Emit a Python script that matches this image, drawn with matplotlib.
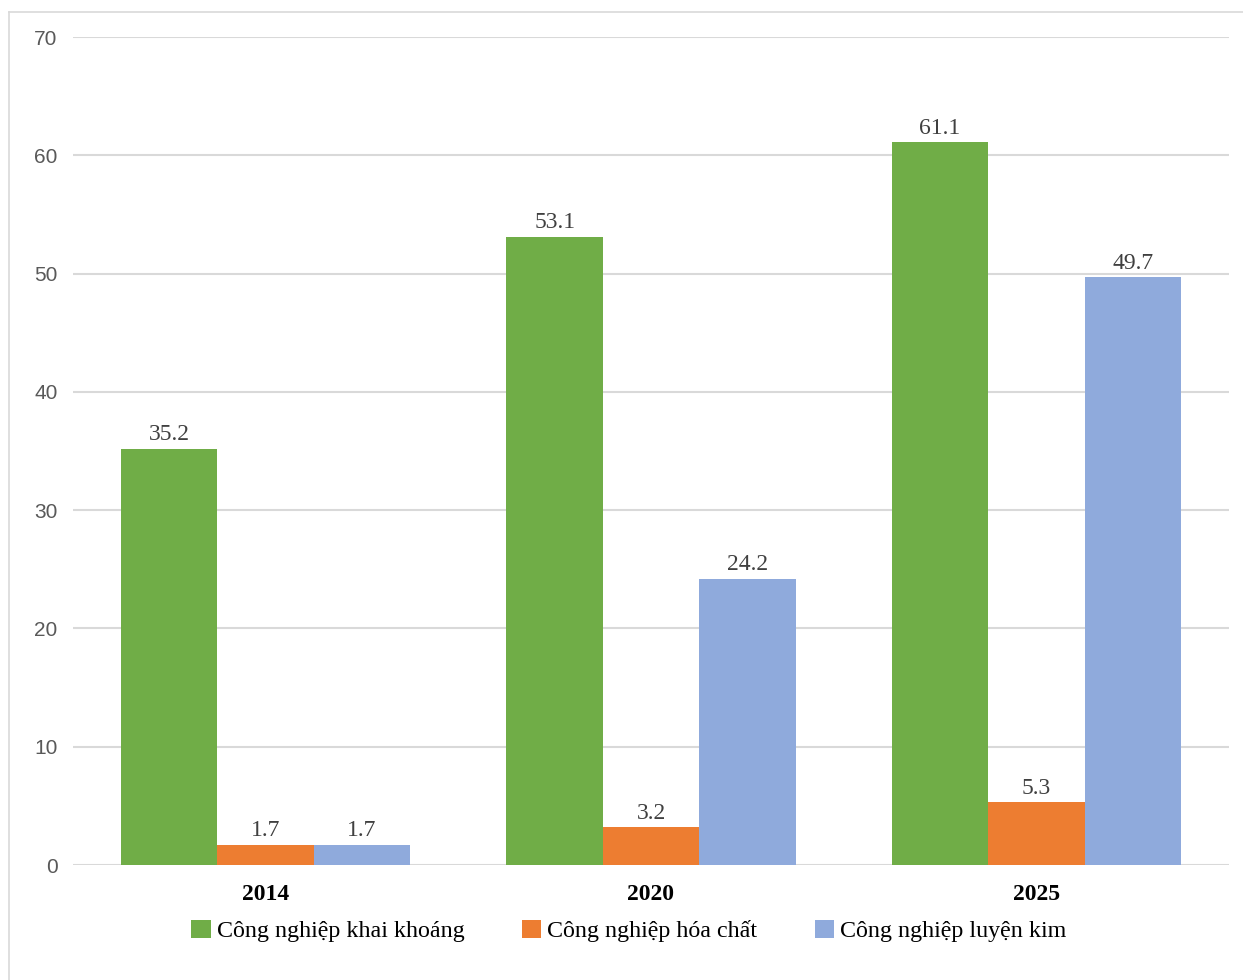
import matplotlib
matplotlib.use("Agg")
import matplotlib.pyplot as plt
from matplotlib.lines import Line2D
from matplotlib.patches import Patch
import numpy as np

years = ["2014", "2020", "2025"]
series = ["Công nghiệp khai khoáng", "Công nghiệp hóa chất", "Công nghiệp luyện kim"]
khai_khoang = [35.2, 53.1, 61.1]
hoa_chat = [1.7, 3.2, 5.3]
luyen_kim = [1.7, 24.2, 49.7]
yticks = [0, 10, 20, 30, 40, 50, 60, 70]

COLORS = ["#70AD47", "#ED7D31", "#8FAADC"]
GRID = "#D9D9D9"
SERIF = ["Liberation Serif", "DejaVu Serif"]

W, H = 1243, 980
fig = plt.figure(figsize=(W / 100, H / 100), dpi=100)
ax = fig.add_axes([73 / W, 1 - 865 / H, (1229 - 73) / W, (865 - 37) / H])

x = np.arange(len(years))
bw = 0.25
for i, (vals, col) in enumerate(zip([khai_khoang, hoa_chat, luyen_kim], COLORS)):
    bars = ax.bar(x + (i - 1) * bw, vals, bw, color=col, zorder=3)
    for b, v in zip(bars, vals):
        ax.text(b.get_x() + b.get_width() / 2, v + 0.3, f"{v:g}", ha="center", va="bottom",
                fontsize=17, family=SERIF, color="#404040", zorder=4)

ax.set_xlim(-0.5, len(years) - 0.5)
ax.set_ylim(0, 70)
ax.set_yticks(yticks)
ax.set_yticklabels([str(t) for t in yticks], family=["Liberation Sans", "DejaVu Sans"],
                   fontsize=15, color="#595959")
ax.set_xticks(x)
ax.set_xticklabels(years, family=SERIF, fontsize=17, fontweight="bold", color="#000000")
ax.tick_params(axis="y", length=0, pad=11)
ax.tick_params(axis="x", length=0, pad=14)
ax.grid(True, axis="y", color=GRID, lw=1.5, zorder=0)
for s in ax.spines.values():
    s.set_visible(False)

handles = [Patch(facecolor=c, edgecolor="none") for c in COLORS]
fig.legend(handles, series, loc="center", bbox_to_anchor=(629 / W, 1 - 931 / H), ncol=3,
           frameon=False, prop={"family": SERIF, "size": 17.3}, handlelength=0.8,
           handleheight=0.8, handletextpad=0.25, columnspacing=2.4)

# light frame around the chart area
fig.add_artist(Line2D([9 / W, 9 / W], [0, 1 - 12 / H], color=GRID, lw=1.2))
fig.add_artist(Line2D([9 / W, 1], [1 - 12 / H, 1 - 12 / H], color=GRID, lw=1.2))

fig.savefig("out.png", dpi=100, facecolor="white")
